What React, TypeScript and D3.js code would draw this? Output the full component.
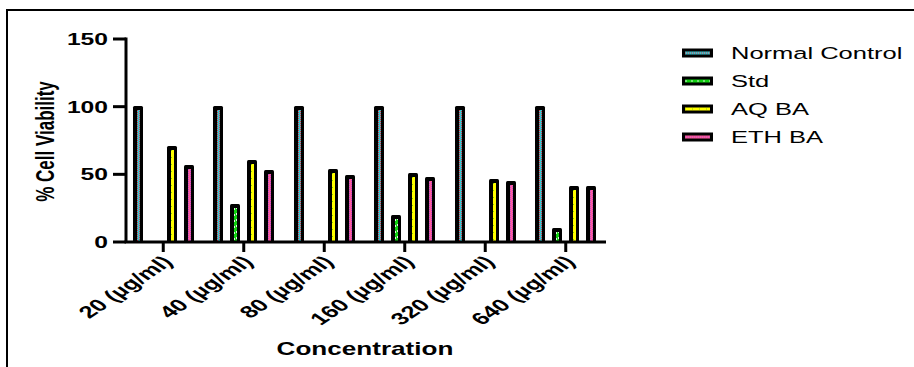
import * as d3 from "d3";

const groups = ["20 (µg/ml)", "40 (µg/ml)", "80 (µg/ml)", "160 (µg/ml)", "320 (µg/ml)", "640 (µg/ml)"];
const seriesNames = ["Normal Control", "Std", "AQ BA", "ETH BA"];
const normalControl = [100, 100, 100, 100, 100, 100];
const stdValues: (number | null)[] = [null, 27.5, null, 19, null, 9.5];
const aqBA = [70, 60, 53.5, 50.5, 46, 41];
const ethBA = [56.5, 52.5, 49, 47.5, 44, 40.5];
const yTicks = [0, 50, 100, 150];

const W = 914;
const H = 367;
const SX = 1.5; // the picture is stretched sideways
const FONT = "'Liberation Sans', Arial, sans-serif";

// base colour + speckle colour + dash for each series fill
const fills = [
  { base: "#3cc4d0", dot: "#e0343c", dash: "1 1" },
  { base: "#10d010", dot: "#d8f4d8", dash: "2 4" },
  { base: "#ffff00", dot: "#8cd000", dash: "1 6" },
  { base: "#ff5c9c", dot: "#b050c8", dash: "1 1" },
];

function Speckle({ x, y, w, h, si, horizontal = false }: any) {
  const f = fills[si];
  if (h <= 0 || w <= 0) return null;
  if (horizontal) {
    return (
      <g>
        <rect x={x} y={y} width={w} height={h} fill={f.base} />
        <line x1={x} x2={x + w} y1={y + h / 2} y2={y + h / 2} stroke={f.dot} strokeWidth={1}
          strokeDasharray={f.dash} />
      </g>
    );
  }
  return (
    <g>
      <rect x={x} y={y} width={w} height={h} fill={f.base} />
      <line x1={x + 0.5} x2={x + 0.5} y1={y} y2={y + h} stroke={f.dot} strokeWidth={1} strokeDasharray={f.dash} />
      {si !== 2 && (
        <line x1={x + w - 0.5} x2={x + w - 0.5} y1={y} y2={y + h} stroke={f.dot} strokeWidth={1}
          strokeDasharray={f.dash} strokeDashoffset={1} />
      )}
    </g>
  );
}

export default function App() {
  const y = d3.scaleLinear().domain([0, 150]).range([242, 39]);
  const x = d3.scaleBand<string>().domain(groups).range([123, 606]);
  const bw = x.bandwidth();
  const inner = d3.scaleBand<string>().domain(seriesNames).range([bw / 2 - 34, bw / 2 + 34]);
  const all = [normalControl, stdValues, aqBA, ethBA];
  const y0 = y(0);

  return (
    <svg width={W} height={H} style={{ position: "absolute", left: 0, top: 0, background: "#fff" }}
      fontFamily={FONT}>
      {/* frame */}
      <line x1={7} x2={W} y1={10} y2={10} stroke="#000" strokeWidth={2} />
      <line x1={7} x2={7} y1={9} y2={H} stroke="#000" strokeWidth={2} />

      {/* bars */}
      {groups.map((g, gi) => (
        <g key={g}>
          {all.map((vals, si) => {
            const v = vals[gi];
            if (v == null) return null;
            const cx = Math.round((x(g) as number) + (inner(seriesNames[si]) as number) + inner.bandwidth() / 2);
            const top = Math.round(y(v));
            return (
              <g key={si}>
                <rect x={cx - 5} y={top - 1} width={10} height={y0 - top + 1} fill="#000" rx={1.5} />
                <Speckle x={cx - 1} y={top + 3} w={3} h={y0 - top - 3} si={si} />
              </g>
            );
          })}
        </g>
      ))}

      {/* y axis */}
      <line x1={126} x2={126} y1={y(150) - 1.5} y2={y0} stroke="#000" strokeWidth={3} />
      {yTicks.map((t) => (
        <g key={t}>
          <line x1={113} x2={126} y1={y(t)} y2={y(t)} stroke="#000" strokeWidth={3} />
          <text transform={`translate(108,${y(t)}) scale(1.45,1)`} textAnchor="end" dy="0.36em"
            fontSize={17} fontWeight="900">{t}</text>
        </g>
      ))}
      <text transform={`translate(54,${(y(150) + y0) / 2 + 1}) scale(1.55,1) rotate(-90)`} textAnchor="middle"
        fontSize={17} fontWeight="bold">% Cell Viability</text>

      {/* x axis */}
      <line x1={124.5} x2={606} y1={y0} y2={y0} stroke="#000" strokeWidth={3} />
      {groups.map((g) => {
        const cx = (x(g) as number) + bw / 2;
        return (
          <g key={g}>
            <line x1={cx} x2={cx} y1={y0} y2={y0 + 10} stroke="#000" strokeWidth={3} />
            <text transform={`translate(${cx - 3},${y0 + 12}) scale(${SX},1) rotate(-45)`} textAnchor="end"
              dy="0.75em" fontSize={17} fontWeight="bold">{g}</text>
          </g>
        );
      })}
      <text transform={`translate(365,355) scale(1.45,1)`} textAnchor="middle" fontSize={18} fontWeight="bold">
        Concentration
      </text>

      {/* legend */}
      {seriesNames.map((s, i) => {
        const cy = 53 + i * 28;
        return (
          <g key={s}>
            <rect x={682} y={cy - 4.5} width={31} height={9} fill="#000" />
            <Speckle x={685} y={cy - 1.5} w={25} h={3} si={i} horizontal />
            <text transform={`translate(731,${cy}) scale(1.5,1)`} dy="0.36em" fontSize={17}>{s}</text>
          </g>
        );
      })}
    </svg>
  );
}
